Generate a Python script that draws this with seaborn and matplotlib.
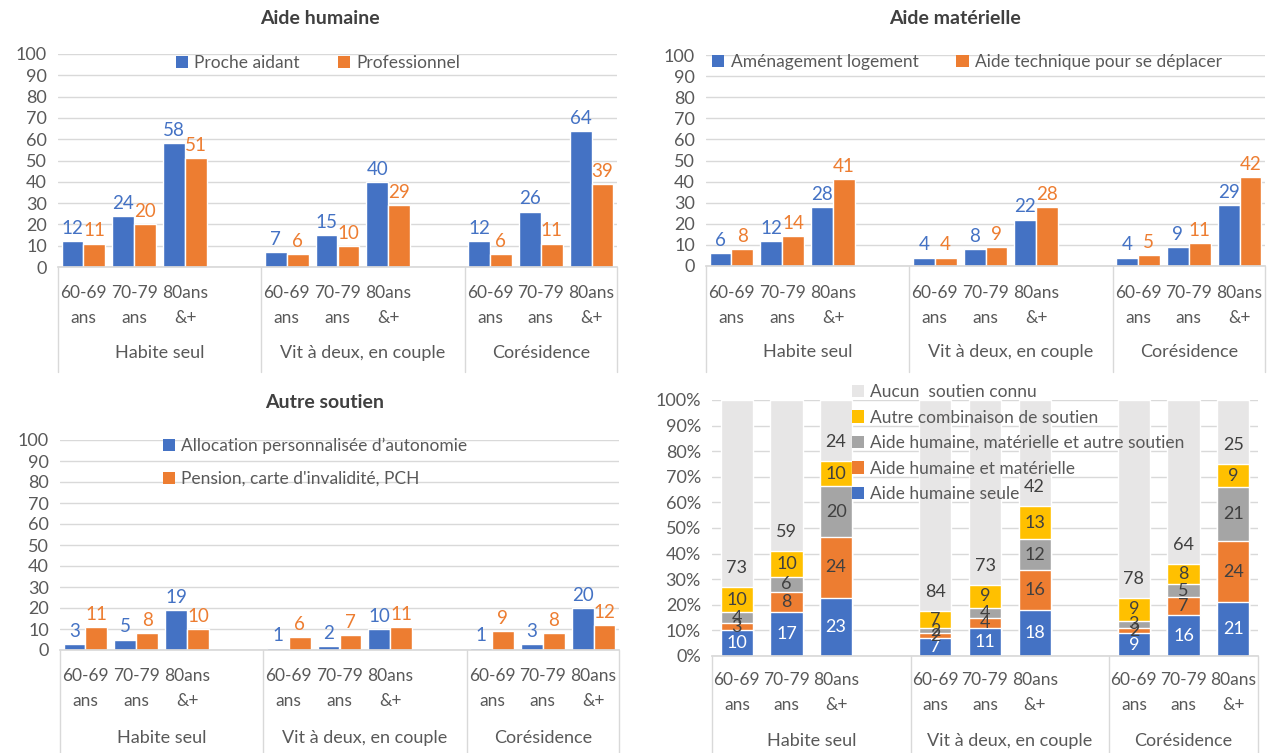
import numpy as np
import pandas as pd
import seaborn as sns
import matplotlib.pyplot as plt
from matplotlib.patches import Patch

# Categories
groups = ["Habite seul", "Vit à deux, en couple", "Corésidence"]
ages = ["60-69\nans", "70-79\nans", "80ans\n&+"]

# Aide humaine
proche_aidant = [12, 24, 58, 7, 15, 40, 12, 26, 64]
professionnel = [11, 20, 51, 6, 10, 29, 6, 11, 39]

# Aide matérielle
amenagement = [6, 12, 28, 4, 8, 22, 4, 9, 29]
aide_technique = [8, 14, 41, 4, 9, 28, 5, 11, 42]

# Autre soutien
apa = [3, 5, 19, 1, 2, 10, 1, 3, 20]
pension = [11, 8, 10, 6, 7, 11, 9, 8, 12]

# Combinaisons (100 % empilé)
humaine_seule = [10, 17, 23, 7, 11, 18, 9, 16, 21]
humaine_materielle = [3, 8, 24, 2, 4, 16, 2, 7, 24]
humaine_mat_autre = [4, 6, 20, 2, 4, 12, 3, 5, 21]
autre_combinaison = [10, 10, 10, 7, 9, 13, 9, 8, 9]
aucun = [73, 59, 24, 84, 73, 42, 78, 64, 25]

BLUE = "#4472C4"
ORANGE = "#ED7D31"
GREY = "#A5A5A5"
YELLOW = "#FFC000"
LIGHT = "#E7E6E6"
TXT = "#595959"
GRID = "#D9D9D9"

sns.set_theme(style="white")
plt.rcParams["font.family"] = ["Lato", "DejaVu Sans"]

W, H = 1275, 753
fig = plt.figure(figsize=(W / 100, H / 100), dpi=100)

# category slots with an empty slot between groups
slots = []
keys = []
for gi, g in enumerate(groups):
    for a in ages:
        slots.append(g + "|" + a)
        keys.append(g + "|" + a)
    if gi < len(groups) - 1:
        slots.append("gap%d" % gi)


def px_axes(x0, y0, x1, y1):
    ax = fig.add_axes([x0 / W, 1 - y1 / H, (x1 - x0) / W, (y1 - y0) / H])
    ax._px = (x0, y0, x1, y1)
    return ax


def yfrac(ax, py):
    x0, y0, x1, y1 = ax._px
    return (y1 - py) / (y1 - y0)


def style_axis(ax, ymax, step, pct=False):
    ax.set_ylim(0, ymax)
    ax.set_xlim(-0.5, len(slots) - 0.5)
    ticks = np.arange(0, ymax + 0.1, step)
    ax.set_yticks(ticks)
    if pct:
        ax.set_yticklabels(["%d%%" % t for t in ticks])
    else:
        ax.set_yticklabels(["%d" % t for t in ticks])
    ax.tick_params(axis="y", labelsize=13, colors=TXT, length=0, pad=8)
    ax.set_xticks([])
    ax.set_xlabel("")
    ax.set_ylabel("")
    ax.yaxis.grid(True, color=GRID, lw=1)
    ax.set_axisbelow(True)
    for s in ["top", "right", "left"]:
        ax.spines[s].set_visible(False)
    ax.spines["bottom"].set_color(GRID)


def cat_labels(ax, age_y, group_y, sep_bottom):
    tr = ax.get_xaxis_transform()
    for k in keys:
        g, a = k.split("|")
        xpos = slots.index(k)
        l1, l2 = a.split("\n")
        ax.text(xpos, yfrac(ax, age_y), l1, transform=tr, ha="center", va="center",
                fontsize=12.5, color=TXT)
        ax.text(xpos, yfrac(ax, age_y + 25), l2, transform=tr, ha="center", va="center",
                fontsize=12.5, color=TXT)
    bounds = [-0.5, 3.5, 7.5, 10.5]
    for gi, g in enumerate(groups):
        ax.text((bounds[gi] + bounds[gi + 1]) / 2, yfrac(ax, group_y), g, transform=tr,
                ha="center", va="center", fontsize=13, color=TXT)
    for b in bounds:
        ax.plot([b, b], [0, yfrac(ax, sep_bottom)], transform=tr, color=GRID,
                lw=1, clip_on=False)


def long_df(series):
    rows = []
    for name, vals in series.items():
        for k, v in zip(keys, vals):
            rows.append({"slot": k, "serie": name, "val": v})
    return pd.DataFrame(rows)


def grouped(ax, series, title=None, title_xy=None):
    df = long_df(series)
    names = list(series)
    sns.barplot(data=df, x="slot", y="val", hue="serie", order=slots, hue_order=names,
                palette=[BLUE, ORANGE], width=0.86, saturation=1, errorbar=None,
                legend=False, ax=ax)
    for cont, col in zip(ax.containers, [BLUE, ORANGE]):
        ax.bar_label(cont, fmt="%d", color=col, fontsize=13.5, padding=3)
    style_axis(ax, 100, 10)
    if title:
        fig.text(title_xy[0] / W, 1 - title_xy[1] / H, title, ha="center", va="center",
                 fontsize=14, fontweight="bold", color="#404040")
    return names


def leg(names, colors, x, y, loc, ncol=1, spacing=0.5, colsp=2.0, size=12.5):
    handles = [Patch(facecolor=c, edgecolor="none") for c in colors]
    fig.legend(handles, names, loc=loc, bbox_to_anchor=(x / W, 1 - y / H), ncol=ncol,
               frameon=False, fontsize=size, handlelength=0.7, handleheight=0.7,
               handletextpad=0.35, columnspacing=colsp, labelspacing=spacing,
               labelcolor=TXT, borderpad=0, borderaxespad=0)


# ---- Aide humaine
ax1 = px_axes(58, 54, 617, 267)
n1 = grouped(ax1, {"Proche aidant": proche_aidant, "Professionnel": professionnel},
             "Aide humaine", (320, 18))
cat_labels(ax1, 293, 353, 372)
leg(n1, [BLUE, ORANGE], 318, 63, "center", ncol=2, colsp=2.2)

# ---- Aide matérielle
ax2 = px_axes(706, 55, 1265, 266)
n2 = grouped(ax2, {"Aménagement logement": amenagement,
                   "Aide technique pour se déplacer": aide_technique},
             "Aide matérielle", (955, 18))
cat_labels(ax2, 293, 352, 372)
leg(n2, [BLUE, ORANGE], 967, 62, "center", ncol=2, colsp=2.2)

# ---- Autre soutien
ax3 = px_axes(60, 440, 619, 650)
n3 = grouped(ax3, {"Allocation personnalisée d’autonomie": apa,
                   "Pension, carte d'invalidité, PCH": pension},
             "Autre soutien", (325, 402))
cat_labels(ax3, 676, 738, 760)
leg(n3, [BLUE, ORANGE], 163, 438, "upper left", spacing=0.95)

# ---- Combinaisons
ax4 = px_axes(712, 400, 1258, 656)
stack_names = ["Aide humaine seule", "Aide humaine et matérielle",
               "Aide humaine, matérielle et autre soutien",
               "Autre combinaison de soutien", "Aucun  soutien connu"]
stack_vals = np.array([humaine_seule, humaine_materielle, humaine_mat_autre,
                       autre_combinaison, aucun], dtype=float)
stack_cols = [BLUE, ORANGE, GREY, YELLOW, LIGHT]
shares = stack_vals / stack_vals.sum(axis=0) * 100
cum = np.cumsum(shares, axis=0)
for k in range(len(stack_names) - 1, -1, -1):
    sns.barplot(x=keys, y=cum[k], order=slots, color=stack_cols[k], width=0.65,
                saturation=1, errorbar=None, ax=ax4)
for k in range(len(stack_names)):
    for i, key in enumerate(keys):
        xpos = slots.index(key)
        if k == len(stack_names) - 1:
            yv = cum[k - 1][i] + 7.5
        else:
            yv = cum[k][i] - shares[k][i] / 2
        ax4.text(xpos, yv, "%d" % stack_vals[k][i], ha="center", va="center",
                 fontsize=13, color="white" if k == 0 else "#404040")
style_axis(ax4, 100, 10, pct=True)
cat_labels(ax4, 680, 741, 760)
leg(stack_names[::-1], stack_cols[::-1], 852, 384, "upper left", spacing=0.55)

fig.savefig("out.png", dpi=100, facecolor="white")
